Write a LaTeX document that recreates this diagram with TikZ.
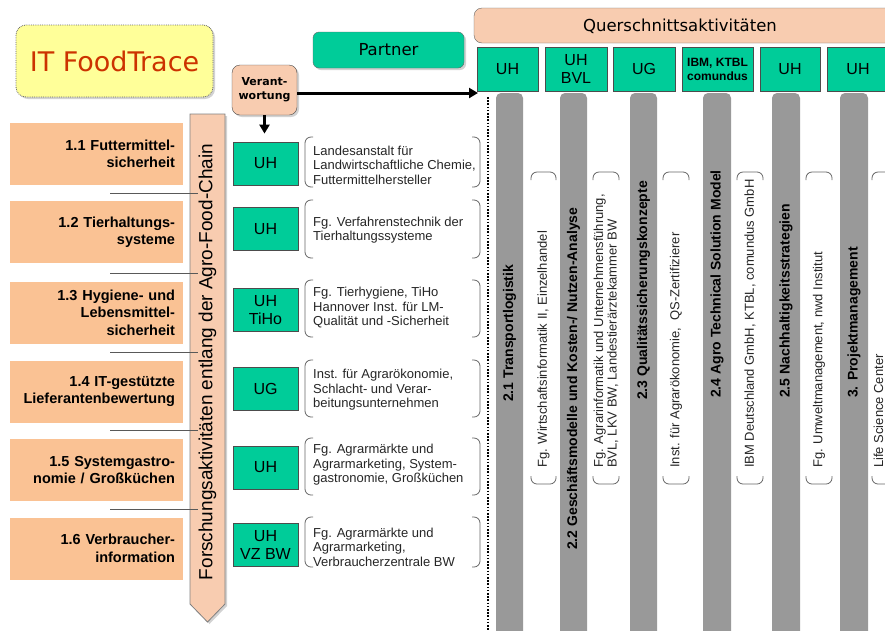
\documentclass[tikz,border=0pt]{standalone}
\usepackage{fontspec}
\setmainfont{Liberation Sans}
\newfontfamily\verdana{DejaVu Sans}
\usetikzlibrary{arrows.meta,shadows}

\definecolor{uhgreen}{RGB}{0,204,153}
\definecolor{boxpeach}{RGB}{250,194,148}
\definecolor{lightpeach}{RGB}{248,204,176}
\definecolor{titleyellow}{RGB}{255,255,153}
\definecolor{titlered}{RGB}{204,51,0}
\definecolor{bargray}{RGB}{153,153,153}

\tikzset{
  greenbox/.style={draw=black!70, line width=0.8pt, fill=uhgreen, inner sep=0pt, align=center,
    minimum width=65pt, minimum height=43pt, font=\fontsize{16}{18}\selectfont},
  rowbox/.style={fill=boxpeach, inner xsep=8pt, inner ysep=0pt, minimum width=173pt, minimum height=62pt,
    text width=157pt, align=right, font=\bfseries\fontsize{14.5}{17.5}\selectfont},
  rowtext/.style={anchor=west, align=left, inner sep=0pt, text=black!85, font=\fontsize{13}{14.5}\selectfont},
  bracket/.style={draw=black!60, line width=0.8pt, rounded corners=6pt},
  bar/.style={fill=bargray, rounded corners=5pt},
  bartext/.style={rotate=90, anchor=west, inner sep=0pt, font=\bfseries\fontsize{14}{16}\selectfont},
  coltext/.style={rotate=90, anchor=west, align=left, inner sep=0pt, text=black!85, font=\fontsize{13}{13.5}\selectfont},
  flow/.style={line width=3pt, -{Triangle[length=9pt,width=10pt]}},
  shade/.style={drop shadow={shadow xshift=2pt, shadow yshift=-2pt, opacity=0.35}},
}

\def\rowbracket(#1:#2:#3:#4){%
  \draw[bracket] ({#1+8},#2) -- (#1,#2) -- (#1,#4) -- ({#1+8},#4);
  \draw[bracket] ({#3-8},#2) -- (#3,#2) -- (#3,#4) -- ({#3-8},#4);}
\def\colbracket(#1:#2:#3:#4){%
  \draw[bracket] (#1,{#2+8}) -- (#1,#2) -- (#3,#2) -- (#3,{#2+8});
  \draw[bracket] (#1,{#4-8}) -- (#1,#4) -- (#3,#4) -- (#3,{#4-8});}

\begin{document}
\begin{tikzpicture}[x=1pt, y=-1pt]
	%%%%% START %%%%%
	\useasboundingbox (0,0) rectangle (885,630);
	\clip (0,0) rectangle (885,630);
	\fill[white] (0,0) rectangle (885,630);

	\node[shade, fill=titleyellow, draw=black!60, densely dotted, line width=0.8pt, rounded corners=10pt,
	  minimum width=197pt, minimum height=72pt, text=titlered, font=\verdana\fontsize{27}{30}\selectfont] (title) at (114.5,61) {IT FoodTrace};
	\node[shade, fill=uhgreen, draw=black!60, rounded corners=6pt, minimum width=151pt, minimum height=36pt,
	  font=\verdana\fontsize{16.5}{18}\selectfont] (partner) at (388.5,50) {Partner};
	\node[shade, fill=lightpeach, draw=black!70, rounded corners=8pt, minimum width=65pt, minimum height=50pt, inner sep=0pt,
	  align=center, font=\verdana\bfseries\fontsize{11}{14}\selectfont] (verant) at (264.5,90) {Verant-\\wortung};

	\draw[fill=lightpeach, draw=black!60, rounded corners=8pt] (474,8) rectangle (900,43);
	\node[font=\verdana\fontsize{16.5}{18}\selectfont] (quer) at (680,26) {Querschnittsaktivitäten};

	\node[greenbox, minimum width=61pt, minimum height=44pt] (q1) at (507.5,69) {UH};
	\node[greenbox, minimum width=62pt, minimum height=44pt] (q2) at (576,69) {UH\\BVL};
	\node[greenbox, minimum width=62pt, minimum height=44pt] (q3) at (644,69) {UG};
	\node[greenbox, minimum width=71pt, minimum height=44pt, font=\bfseries\fontsize{12}{14}\selectfont] (q4) at (717.5,69) {IBM, KTBL\\comundus};
	\node[greenbox, minimum width=60pt, minimum height=44pt] (q5) at (790,69) {UH};
	\node[greenbox, minimum width=62pt, minimum height=44pt] (q6) at (858,69) {UH};

	% research rows
	\node[rowbox] (r1) at (96.5,154) {1.1 Futtermittel-\\sicherheit};
	\node[rowbox] (r2) at (96.5,232) {1.2 Tierhaltungs-\\systeme};
	\node[rowbox] (r3) at (96.5,312.5) {1.3 Hygiene- und\\Lebensmittel-\\sicherheit};
	\node[rowbox] (r4) at (96.5,391.5) {1.4 IT-gestützte\\Lieferantenbewertung};
	\node[rowbox] (r5) at (96.5,470) {1.5 Systemgastro-\\nomie / Großküchen};
	\node[rowbox] (r6) at (96.5,548.5) {1.6 Verbraucher-\\information};

	\draw[shade, fill=lightpeach, draw=black!50, line width=0.8pt] (190,114) -- (225,114) -- (225,604) -- (207.5,622) -- (190,604) -- cycle;
	\node[rotate=90, font=\fontsize{19}{21}\selectfont] (chain) at (207.5,362) {Forschungsaktivitäten entlang der Agro-Food-Chain};

	\draw[line width=1pt, black!65] (110,193) -- (198,193);
	\draw[line width=1pt, black!65] (110,273) -- (198,273);
	\draw[line width=1pt, black!65] (110,352) -- (198,352);
	\draw[line width=1pt, black!65] (110,430) -- (198,430);
	\draw[line width=1pt, black!65] (110,509) -- (198,509);

	\node[greenbox] (uh1) at (265.5,163.5) {UH};
	\node[greenbox] (uh2) at (265.5,229) {UH};
	\node[greenbox] (uh3) at (265.5,310) {UH\\TiHo};
	\node[greenbox] (ug4) at (265.5,389) {UG};
	\node[greenbox] (uh5) at (265.5,467.5) {UH};
	\node[greenbox] (uh6) at (265.5,545) {UH\\VZ BW};

	\rowbracket(305:137:480:187)
	\rowbracket(305:200:480:258)
	\rowbracket(305:280:480:337)
	\rowbracket(305:360:480:417)
	\rowbracket(305:438:480:495)
	\rowbracket(305:517:480:567)

	\node[rowtext] (p1) at (313,165) {Landesanstalt für\\Landwirtschaftliche Chemie,\\Futtermittelhersteller};
	\node[rowtext] (p2) at (313,230) {Fg. Verfahrenstechnik der\\Tierhaltungssysteme};
	\node[rowtext] (p3) at (313,308) {Fg. Tierhygiene, TiHo\\Hannover Inst. für LM-\\Qualität und -Sicherheit};
	\node[rowtext] (p4) at (313,390) {Inst. für Agrarökonomie,\\Schlacht- und Verar-\\beitungsunternehmen};
	\node[rowtext] (p5) at (313,465) {Fg. Agrarmärkte und\\Agrarmarketing, System-\\gastronomie, Großküchen};
	\node[rowtext] (p6) at (313,547) {Fg. Agrarmärkte und\\Agrarmarketing,\\Verbraucherzentrale BW};

	% responsibility arrows
	\coordinate (qarrow) at (478,93);
	\draw[flow] (verant.east |- qarrow) -- (qarrow);
	\draw[flow, shorten >=8pt] (verant.south) -- (verant.south |- uh1.north);
	\draw[line width=1.6pt, dash pattern=on 1.6pt off 1.6pt] (488,97) -- (488,630);

	% cross-section columns
	\fill[bar] (496,93) rectangle (523,640);
	\fill[bar] (560,93) rectangle (587,640);
	\fill[bar] (630,93) rectangle (657,640);
	\fill[bar] (703,93) rectangle (731,640);
	\fill[bar] (772,93) rectangle (800,640);
	\fill[bar] (840,93) rectangle (868,640);

	\node[bartext] (t21) at (509.5,402) {2.1 Transportlogistik};
	\node[bartext] (t22) at (573.5,550) {2.2 Geschäftsmodelle und Kosten-/ Nutzen-Analyse};
	\node[bartext] (t23) at (643.5,400) {2.3 Qualitätssicherungskonzepte};
	\node[bartext] (t24) at (717,398) {2.4 Agro Technical Solution Model};
	\node[bartext] (t25) at (786,398) {2.5 Nachhaltigkeitsstrategien};
	\node[bartext] (t3) at (854,398) {3. Projektmanagement};

	\colbracket(531:172:556:484)
	\colbracket(593:172:619:484)
	\colbracket(663:172:689:484)
	\colbracket(737:172:763:484)
	\colbracket(806:172:832:484)
	\colbracket(872:172:898:484)

	\node[coltext] (c1) at (543.5,468) {Fg. Wirtschaftsinformatik II, Einzelhandel};
	\node[coltext] (c2) at (606,468) {Fg. Agrarinformatik und Unternehmensführung,\\BVL, LKV BW, Landestierärztekammer BW};
	\node[coltext] (c3) at (676,468) {Inst. für Agrarökonomie,\ \ QS-Zertifizierer};
	\node[coltext] (c4) at (750,468) {IBM Deutschland GmbH, KTBL, comundus GmbH};
	\node[coltext] (c5) at (819,468) {Fg. Umweltmanagement, nwd Institut};
	\node[coltext] (c6) at (878.5,468) {Life Science Center};
	%%%%% END %%%%%
\end{tikzpicture}
\end{document}
